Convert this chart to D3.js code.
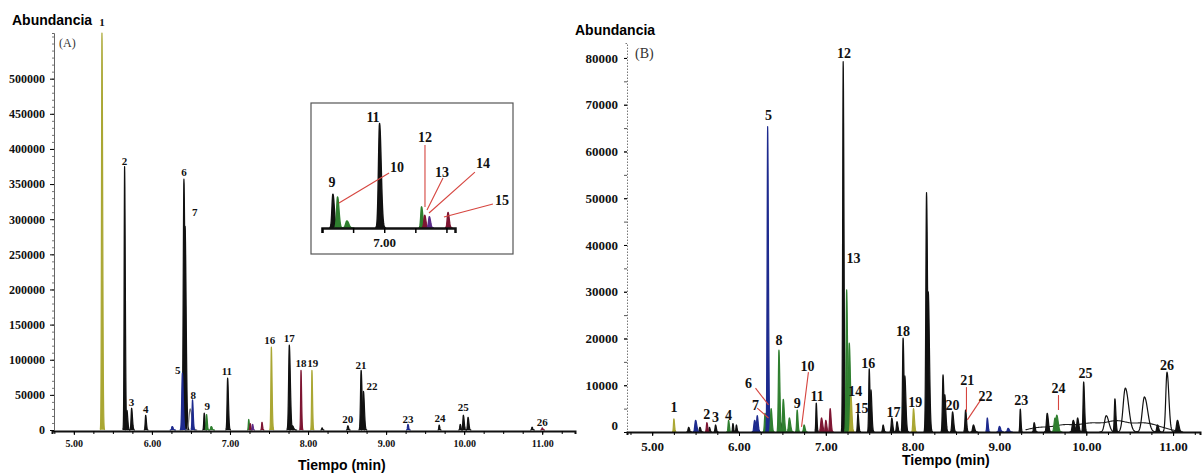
<!DOCTYPE html>
<html>
<head>
<meta charset="utf-8">
<script src="https://cdn.jsdelivr.net/npm/d3@7"></script>
<style>
  body { margin: 0; background: #fff; }
  .num { font-family: "Liberation Serif", "Times New Roman", serif; font-weight: bold; }
  .ttl { font-family: "Liberation Sans", Arial, sans-serif; font-weight: bold; }
</style>
</head>
<body>
<svg id="chart" width="1203" height="474"></svg>
<script>
// ---- chromatogram (A): retention time (min), abundance, peak sigma (min), trace
const timesA   = [5.36, 5.65, 5.68, 5.74, 5.92, 6.26, 6.39, 6.41, 6.425, 6.49, 6.52, 6.67, 6.70, 6.76, 6.97, 7.24, 7.26, 7.29, 7.41, 7.53, 7.76, 7.80, 7.91, 8.05, 8.18, 8.51, 8.68, 8.71, 9.28, 9.68, 9.95, 9.99, 10.05, 10.87, 11.00];
const heightsA = [565000, 375000, 28000, 31000, 21000, 5000, 81000, 357000, 290000, 30000, 43000, 24000, 22000, 5000, 74000, 15000, 9000, 8000, 11000, 118000, 121000, 6000, 85000, 85000, 3000, 6000, 85000, 55000, 8000, 7000, 8000, 21000, 18000, 4000, 3000];
const widthsA  = [0.006, 0.006, 0.007, 0.007, 0.006, 0.008, 0.008, 0.009, 0.009, 0.015, 0.006, 0.006, 0.006, 0.008, 0.007, 0.005, 0.005, 0.005, 0.005, 0.006, 0.009, 0.01, 0.005, 0.005, 0.005, 0.006, 0.008, 0.008, 0.006, 0.005, 0.006, 0.007, 0.007, 0.006, 0.006];
const tracesA  = ["ol", "bk", "bk", "bk", "bk", "bl", "bl", "bk", "bk", "gy", "bl", "bk", "gr", "gr", "bk", "gr", "dr", "pu", "dr", "ol", "bk", "bk", "dr", "ol", "bk", "bk", "bk", "bk", "bl", "bk", "bk", "bk", "bk", "bk", "dr"];

const labelsA  = ["1", "2", "3", "4", "5", "6", "7", "8", "9", "11", "16", "17", "18", "19", "20", "21", "22", "23", "24", "25", "26"];
const labelTA  = [5.36, 5.65, 5.74, 5.92, 6.33, 6.41, 6.55, 6.53, 6.71, 6.96, 7.51, 7.76, 7.91, 8.06, 8.51, 8.68, 8.82, 9.28, 9.69, 9.99, 11.0];
const labelAA  = [575500, 377500, 34000, 24000, 80000, 362000, 305000, 44000, 28500, 78000, 122500, 125000, 90000, 90000, 10000, 87000, 57000, 10000, 11000, 27000, 5700];

// inset of (A), 6.6 - 7.45 min
const labelsI  = ["9", "10", "11", "12", "13", "14", "15"];
const labelTI  = [6.664, 7.082, 6.928, 7.262, 7.371, 7.635, 7.757];
const labelAI  = [29000, 39600, 75000, 60900, 36100, 42500, 16300];
const leadersI = [[7.031, 38900, 6.709, 17700], [7.262, 58700, 7.262, 14900], [7.378, 35400, 7.275, 12700], [7.583, 39600, 7.288, 10600], [7.699, 17000, 7.384, 7800]];

// ---- chromatogram (B)
const timesB   = [5.25, 5.42, 5.50, 5.55, 5.63, 5.66, 5.73, 5.88, 5.93, 5.97, 6.18, 6.21, 6.30, 6.33, 6.37, 6.46, 6.48, 6.51, 6.58, 6.67, 6.75, 6.89, 6.95, 7.00, 7.05, 7.20, 7.24, 7.27, 7.29, 7.37, 7.50, 7.52, 7.66, 7.76, 7.82, 7.89, 7.91, 8.01, 8.16, 8.18, 8.35, 8.37, 8.46, 8.61, 8.70, 8.86, 9.00, 9.10, 9.24, 9.40, 9.55, 9.64, 9.66, 9.85, 9.90, 9.97, 10.23, 10.33, 10.45, 10.67, 10.82, 10.93, 11.05];
const heightsB = [2800, 1000, 2500, 1000, 2000, 1000, 1500, 2500, 1800, 1500, 2500, 3500, 4000, 65300, 5000, 17500, 2000, 7000, 3000, 4700, 1500, 6200, 3000, 2500, 5000, 79200, 30400, 19000, 7500, 4000, 13500, 9000, 1500, 3000, 2200, 20100, 12000, 5000, 51200, 30000, 12200, 8000, 4300, 4700, 1500, 3000, 1200, 800, 4900, 2000, 4000, 3000, 3600, 2500, 3000, 10700, 3500, 7100, 9400, 7500, 1500, 12800, 2500];
const widthsB  = [0.005, 0.007, 0.009, 0.007, 0.006, 0.005, 0.006, 0.006, 0.005, 0.005, 0.009, 0.007, 0.007, 0.006, 0.007, 0.007, 0.007, 0.008, 0.009, 0.006, 0.007, 0.005, 0.009, 0.007, 0.007, 0.006, 0.007, 0.009, 0.007, 0.006, 0.006, 0.007, 0.006, 0.007, 0.007, 0.007, 0.008, 0.007, 0.008, 0.009, 0.007, 0.008, 0.008, 0.007, 0.009, 0.006, 0.009, 0.009, 0.005, 0.007, 0.009, 0.011, 0.011, 0.011, 0.009, 0.007, 0.02, 0.007, 0.025, 0.025, 0.009, 0.014, 0.011];
const tracesB  = ["ol", "bk", "bl", "bk", "dr", "bk", "bk", "gr", "bk", "bk", "bl", "bl", "gr", "bl", "gr", "gr", "bk", "gr", "gr", "gr", "gr", "bk", "dr", "dr", "dr", "bk", "gr", "gr", "ol", "bk", "bk", "bk", "bk", "bk", "bk", "bk", "bk", "ol", "bk", "bk", "bk", "bk", "bk", "bk", "bk", "bl", "bl", "bl", "bk", "bk", "bk", "gr", "gr", "bk", "bk", "bk", "bk", "bk", "bk", "bk", "bk", "bk", "bk"];
// raised baseline of the second run
const driftT   = [9.45, 9.75, 10.05, 10.35, 10.65, 10.85];
const driftA   = [900, 1400, 1700, 2200, 1600, 700];

const labelsB  = ["1", "2", "3", "4", "5", "6", "7", "8", "9", "10", "11", "12", "13", "14", "15", "16", "17", "18", "19", "20", "21", "22", "23", "24", "25", "26"];
const labelTB  = [5.25, 5.63, 5.73, 5.88, 6.34, 6.11, 6.19, 6.46, 6.67, 6.79, 6.90, 7.21, 7.32, 7.34, 7.41, 7.49, 7.78, 7.89, 8.03, 8.46, 8.63, 8.84, 9.25, 9.68, 9.99, 10.93];
const labelAB  = [4300, 2800, 2100, 2600, 66700, 9400, 4700, 18600, 5100, 13000, 6600, 80000, 36100, 7700, 4100, 13700, 3200, 20500, 5300, 4700, 10000, 6600, 5800, 8300, 11500, 13300];
const leadersB = [[6.19, 9400, 6.34, 5800], [6.21, 5100, 6.34, 3000], [6.80, 12800, 6.72, 1100], [8.62, 9600, 8.62, 4300], [8.80, 7300, 8.63, 2600], [9.68, 7900, 9.68, 4700]];

const yTicksA = d3.range(0, 500001, 50000);
const yTicksB = d3.range(0, 80001, 10000);
const xTicks  = [5, 6, 7, 8, 9, 10, 11];

const colour = d3.scaleOrdinal()
  .domain(["bk", "ol", "bl", "gr", "dr", "pu", "gy"])
  .range(["#111111", "#aaa733", "#1d2a8e", "#2f7f2f", "#7d1532", "#5a2a88", "#777777"]);
const LEADER = "#d6453f";

const svg = d3.select("#chart");

// one chromatographic peak, slightly tailing
function peakPoints(t, h, s) {
  return d3.range(-4, 4.01, 0.2).map(k => {
    const tt = k < 0 ? t + k * s : t + k * s * 1.5;
    return [tt, h * Math.exp(-k * k / 2)];
  });
}

function drawPeaks(g, x, y, times, heights, widths, traces, sw) {
  const line = d3.line().x(d => x(d[0])).y(d => y(d[1]));
  const idx = d3.range(times.length).sort((a, b) => (traces[a] === "bk" ? 0 : 1) - (traces[b] === "bk" ? 0 : 1));
  g.selectAll(null)
    .data(idx)
    .enter()
    .append("path")
    .attr("d", i => line(peakPoints(times[i], heights[i], widths[i])))
    .attr("fill", i => widths[i] < 0.012 ? colour(traces[i]) : "none")
    .attr("stroke", i => colour(traces[i]))
    .attr("stroke-width", sw)
    .attr("stroke-linejoin", "round");
}

function drawLabels(g, x, y, labels, ts, as, size) {
  g.selectAll(null)
    .data(labels)
    .enter()
    .append("text")
    .attr("class", "num")
    .attr("x", (d, i) => x(ts[i]))
    .attr("y", (d, i) => y(as[i]))
    .attr("text-anchor", "middle")
    .attr("font-size", size)
    .attr("fill", "#111")
    .text(d => d);
}

function drawLeaders(g, x, y, leaders) {
  g.selectAll(null)
    .data(leaders)
    .enter()
    .append("line")
    .attr("x1", d => x(d[0]))
    .attr("y1", d => y(d[1]))
    .attr("x2", d => x(d[2]))
    .attr("y2", d => y(d[3]))
    .attr("stroke", LEADER)
    .attr("stroke-width", 1.1);
}

// ================= panel A =================
const xA = d3.scaleLinear().domain([4.72, 11.42]).range([52, 575]);
const yA = d3.scaleLinear().domain([0, 565000]).range([430, 33]);
const gA = svg.append("g");

gA.append("g")
  .attr("transform", "translate(54,0)")
  .call(d3.axisLeft(yA).tickValues(d3.range(0, 565000, 10000)).tickSize(2).tickFormat(""))
  .call(g => g.select(".domain").attr("stroke", "#666"))
  .call(g => g.selectAll(".tick line").attr("stroke", "#777"));
gA.append("g")
  .attr("transform", "translate(54,0)")
  .call(d3.axisLeft(yA).tickValues(yTicksA).tickSize(4).tickPadding(5).tickFormat(d3.format("d")))
  .call(g => g.select(".domain").remove())
  .call(g => g.selectAll("text").attr("class", "num").attr("font-size", 12).attr("fill", "#111"));

drawPeaks(gA, xA, yA, timesA, heightsA, widthsA, tracesA, 1.2);

gA.append("g")
  .attr("transform", "translate(0,431)")
  .call(d3.axisBottom(xA).tickValues(d3.range(4.75, 11.42, 0.25)).tickSize(3).tickFormat(""))
  .call(g => g.select(".domain").attr("stroke", "#111").attr("stroke-width", 2));
gA.append("g")
  .attr("transform", "translate(0,431)")
  .call(d3.axisBottom(xA).tickValues(xTicks).tickSize(4).tickPadding(5).tickFormat(d3.format(".2f")))
  .call(g => g.select(".domain").remove())
  .call(g => g.selectAll("text").attr("class", "num").attr("font-size", 10).attr("fill", "#111"));

drawLabels(gA, xA, yA, labelsA, labelTA, labelAA, 11);

gA.append("text").attr("class", "ttl").attr("x", 12).attr("y", 25).attr("font-size", 14).text("Abundancia");
gA.append("text").attr("x", 59).attr("y", 47).attr("font-family", "Liberation Serif, serif").attr("font-size", 12).attr("fill", "#333").text("(A)");
gA.append("text").attr("class", "ttl").attr("x", 298).attr("y", 470).attr("font-size", 14).text("Tiempo (min)");

// ---- inset
const xI = d3.scaleLinear().domain([6.60, 7.455]).range([322, 455]);
const yI = d3.scaleLinear().domain([0, 80000]).range([228, 115]);
const gI = svg.append("g");
gI.append("rect")
  .attr("x", 311).attr("y", 103).attr("width", 202).attr("height", 151)
  .attr("fill", "#fff").attr("stroke", "#555").attr("stroke-width", 1.2);

const inI = d3.range(timesA.length).filter(i => timesA[i] > 6.62 && timesA[i] < 7.44);
drawPeaks(gI, xI, yI, inI.map(i => timesA[i]), inI.map(i => heightsA[i]), inI.map(i => widthsA[i]), inI.map(i => tracesA[i]), 1.4);

gI.append("g")
  .attr("transform", "translate(0,228)")
  .call(d3.axisBottom(xI).tickValues([6.6, 6.8, 7.0, 7.2, 7.4]).tickSize(5).tickPadding(5).tickFormat(d => d === 7 ? "7.00" : ""))
  .call(g => g.select(".domain").attr("stroke", "#111").attr("stroke-width", 2.5))
  .call(g => g.selectAll(".tick line").attr("stroke-width", 1.5))
  .call(g => g.selectAll("text").attr("class", "num").attr("font-size", 13).attr("fill", "#111"));

drawLeaders(gI, xI, yI, leadersI);
drawLabels(gI, xI, yI, labelsI, labelTI, labelAI, 14);

// ================= panel B =================
const xB = d3.scaleLinear().domain([4.71, 11.31]).range([627, 1200]);
const yB = d3.scaleLinear().domain([0, 83200]).range([432, 43]);
const gB = svg.append("g");

gB.append("g")
  .attr("transform", "translate(627,0)")
  .call(d3.axisLeft(yB).tickValues(d3.range(0, 83200, 5000)).tickSize(3).tickFormat(""))
  .call(g => g.select(".domain").attr("stroke", "#777").attr("stroke-dasharray", "1.5,1.5"))
  .call(g => g.selectAll(".tick line").attr("stroke", "#555"));
gB.append("g")
  .attr("transform", "translate(627,0)")
  .call(d3.axisLeft(yB).tickValues(yTicksB).tickSize(3).tickPadding(6).tickFormat(d3.format("d")))
  .call(g => g.select(".domain").remove())
  .call(g => g.selectAll("text").attr("class", "num").attr("font-size", 13).attr("fill", "#111"))
  .call(g => g.selectAll(".tick").filter(d => d === 0).select("text").attr("dy", "-0.2em"));

// raised, wavy baseline of the second run: one line through the humps
const driftPts = d3.range(9.3, 11.1, 0.01).map(t => [t, d3.sum(driftT, (c, i) => driftA[i] * Math.exp(-0.5 * ((t - c) / 0.13) ** 2))]);
gB.append("path")
  .attr("d", d3.line().x(d => xB(d[0])).y(d => yB(d[1]))(driftPts))
  .attr("fill", "none")
  .attr("stroke", "#222")
  .attr("stroke-width", 1.1);

drawPeaks(gB, xB, yB, timesB, heightsB, widthsB, tracesB, 1.2);

gB.append("g")
  .attr("transform", "translate(0,432)")
  .call(d3.axisBottom(xB).tickValues(d3.range(4.75, 11.31, 0.25)).tickSize(3).tickFormat(""))
  .call(g => g.select(".domain").attr("stroke", "#111").attr("stroke-width", 2));
gB.append("g")
  .attr("transform", "translate(0,432)")
  .call(d3.axisBottom(xB).tickValues(xTicks).tickSize(4).tickPadding(6).tickFormat(d3.format(".2f")))
  .call(g => g.select(".domain").remove())
  .call(g => g.selectAll("text").attr("class", "num").attr("font-size", 13).attr("fill", "#111"));

drawLeaders(gB, xB, yB, leadersB);
drawLabels(gB, xB, yB, labelsB, labelTB, labelAB, 14);

gB.append("text").attr("class", "ttl").attr("x", 575).attr("y", 35).attr("font-size", 14).text("Abundancia");
gB.append("text").attr("x", 635).attr("y", 58).attr("font-family", "Liberation Serif, serif").attr("font-size", 14).attr("fill", "#333").text("(B)");
gB.append("text").attr("class", "ttl").attr("x", 902).attr("y", 465).attr("font-size", 14).text("Tiempo (min)");
</script>
</body>
</html>
